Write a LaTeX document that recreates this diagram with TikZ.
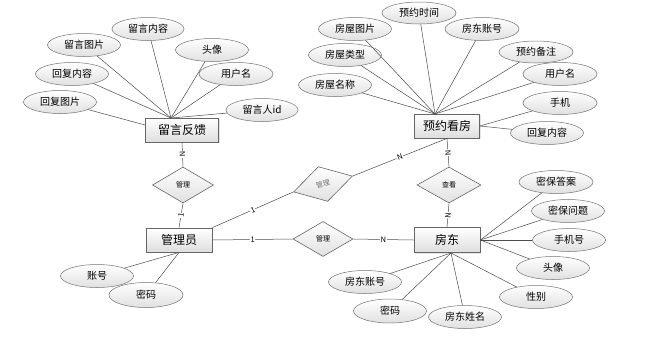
\documentclass[tikz,border=0pt]{standalone}
\usepackage{fontspec}
\setmainfont{Noto Sans CJK SC}
\usetikzlibrary{shapes.geometric,shadows}

\begin{document}
\begin{tikzpicture}[x=1pt,y=-1pt,
  entity/.style={rectangle,draw=black!60,line width=0.8pt,top color=white,bottom color=black!13,minimum width=66pt,minimum height=24pt,inner sep=0pt,font=\fontsize{12}{12}\selectfont,drop shadow={opacity=0.2,shadow xshift=1pt,shadow yshift=-1pt}},
  attr/.style={ellipse,draw=black!55,line width=0.5pt,top color=white,bottom color=black!12,minimum width=73pt,minimum height=23pt,inner sep=0pt,font=\fontsize{10}{10}\selectfont},
  rel/.style={diamond,draw=black!60,line width=0.6pt,top color=white,bottom color=black!12,minimum width=61pt,minimum height=36pt,inner sep=0pt,font=\fontsize{7}{7}\selectfont},
  link/.style={draw=black!70,line width=0.5pt},
  card/.style={midway,sloped,fill=white,inner sep=0.6pt,font=\fontsize{7.5}{7.5}\selectfont}]
\fill[white] (0,0) rectangle (645,341);
\useasboundingbox (0,0) rectangle (645,341);

% entities
\node[entity,minimum width=73pt] (ly) at (182,130) {留言反馈};
\node[entity,minimum width=65pt] (yy) at (447,126) {预约看房};
\node[entity] (gly) at (179,240) {管理员};
\node[entity,minimum height=25pt] (fd) at (447,240) {房东};

% relations
\node[rel] (r1) at (183,185) {管理};
\node[rel,minimum width=64pt] (r2) at (449,185) {查看};
\node[rel,minimum width=60pt,minimum height=35pt] (r3) at (323,239) {管理};
\node[rel,rotate=15,text=black!55] (r4) at (323,184) {管理};

% attributes of 留言反馈
\node[attr,minimum width=72pt] (ly1) at (148,29) {留言内容};
\node[attr] (ly2) at (84,45) {留言图片};
\node[attr] (ly3) at (212,50) {头像};
\node[attr] (ly4) at (72,74) {回复内容};
\node[attr,minimum width=74pt] (ly5) at (236,74) {用户名};
\node[attr] (ly6) at (60,102) {回复图片};
\node[attr,minimum width=72pt] (ly7) at (262,110) {留言人id};
\coordinate (lyhub) at (171,118);

% attributes of 预约看房
\node[attr,minimum width=74pt,minimum height=22pt] (yy1) at (419,13) {预约时间};
\node[attr] (yy2) at (355,29) {房屋图片};
\node[attr,minimum width=74pt] (yy3) at (482,29) {房东账号};
\node[attr] (yy4) at (345,55) {房屋类型};
\node[attr,minimum width=74pt,minimum height=22pt] (yy5) at (536,52) {预约备注};
\node[attr] (yy6) at (335,85) {房屋名称};
\node[attr,minimum width=74pt] (yy7) at (560,74) {用户名};
\node[attr,minimum width=74pt] (yy8) at (560,103) {手机};
\node[attr] (yy9) at (547,133) {回复内容};
\coordinate (yyhub) at (435,114);

% attributes of 管理员
\node[attr] (gly1) at (97,276) {账号};
\node[attr,minimum width=74pt,minimum height=25pt] (gly2) at (146,295) {密码};

% attributes of 房东
\node[attr,minimum width=74pt] (fd1) at (556,182) {密保答案};
\node[attr] (fd2) at (568,211) {密保问题};
\node[attr] (fd3) at (569,240) {手机号};
\node[attr] (fd4) at (553,268) {头像};
\node[attr] (fd5) at (536,297) {性别};
\node[attr] (fd6) at (365,282) {房东账号};
\node[attr,minimum height=24pt] (fd7) at (390,311) {密码};
\node[attr] (fd8) at (465,317) {房东姓名};
\coordinate (fdhub) at (451,253);

% relation lines
\draw[link] (ly.south) -- node[card] {N} (r1.north);
\draw[link] (r1.south) -- node[card] {1} (gly.north);
\draw[link] (yy.south) -- node[card] {N} (r2.north);
\draw[link] (r2.south) -- node[card] {N} (fd.north);
\draw[link] (gly.east) -- node[card] {1} (r3.west);
\draw[link] (r3.east) -- node[card] {N} (fd.west);
\draw[link] (gly.north east) -- node[card] {1} (r4.west);
\draw[link] (r4.east) -- node[card] {N} (yy.south);

% attribute lines
\draw[link] (ly1) -- (lyhub);
\draw[link] (ly2) -- (lyhub);
\draw[link] (ly3) -- (lyhub);
\draw[link] (ly4) -- (lyhub);
\draw[link] (ly5) -- (lyhub);
\draw[link] (ly7) -- (lyhub);
\draw[link] (ly6) -- ([yshift=5pt]ly.west);
\draw[link] (yy1) -- (yyhub);
\draw[link] (yy2) -- (yyhub);
\draw[link] (yy3) -- (yyhub);
\draw[link] (yy4) -- (yyhub);
\draw[link] (yy5) -- (yyhub);
\draw[link] (yy6) -- (yyhub);
\draw[link] (yy7) -- (yyhub);
\draw[link] (yy8) -- (yy.east);
\draw[link] (yy9) -- (yy.east);
\draw[link] (gly1) -- (gly.south);
\draw[link] (gly2) -- (gly.south);
\draw[link] (fd1) -- (fd.east);
\draw[link] (fd2) -- (fd.east);
\draw[link] (fd3) -- (fd.east);
\draw[link] (fd4) -- (fd.east);
\draw[link] (fd5) -- (fdhub);
\draw[link] (fd6) -- (fdhub);
\draw[link] (fd7) -- (fdhub);
\draw[link] (fd8) -- (fdhub);
\end{tikzpicture}
\end{document}
